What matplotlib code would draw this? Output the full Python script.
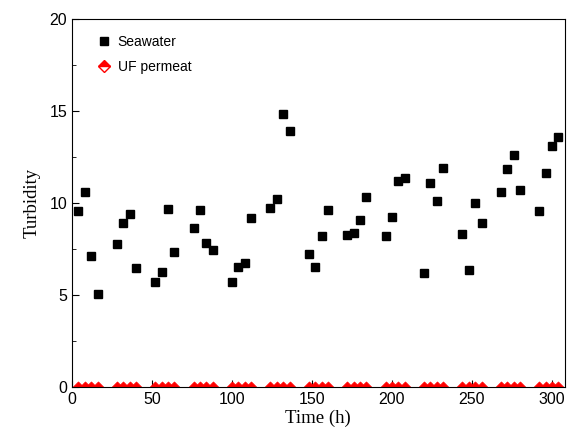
import numpy as np
import matplotlib.pyplot as plt
from matplotlib.lines import Line2D
from matplotlib.path import Path
from matplotlib.ticker import MultipleLocator

time_h = [4, 8, 12, 16, 28, 32, 36, 40, 52, 56, 60, 64, 76, 80, 84, 88,
          100, 104, 108, 112, 124, 128, 132, 136, 148, 152, 156, 160,
          172, 176, 180, 184, 196, 200, 204, 208, 220, 224, 228, 232,
          244, 248, 252, 256, 268, 272, 276, 280, 292, 296, 300, 304]
seawater = [9.58, 10.58, 7.14, 5.04, 7.77, 8.9, 9.42, 6.45,
            5.71, 6.25, 9.67, 7.35, 8.66, 9.64, 7.81, 7.48,
            5.72, 6.54, 6.76, 9.2, 9.71, 10.25, 14.87, 13.91,
            7.23, 6.54, 8.22, 9.62, 8.28, 8.39, 9.08, 10.31,
            8.24, 9.26, 11.2, 11.36, 6.21, 11.09, 10.13, 11.92,
            8.33, 6.34, 10.0, 8.91, 10.6, 11.86, 12.61, 10.74,
            9.58, 11.63, 13.1, 13.6]
uf_permeat = [0.0] * len(time_h)

fig = plt.figure(figsize=(5.69, 4.44), dpi=100)
ax = fig.add_axes([0.1265, 0.128, 0.866, 0.829])

ax.plot(time_h, seawater, 's', color='black', markersize=5.5, label='Seawater')

# points sit on y=0, so only the top half of the diamond shows
half_diamond = Path([(-1, 0), (0, 1), (1, 0), (-1, 0)],
                    [Path.MOVETO, Path.LINETO, Path.LINETO, Path.CLOSEPOLY])
ax.plot(time_h, uf_permeat, linestyle='none', marker=half_diamond, color='red',
        markersize=8, markeredgewidth=0.5)

handles = [Line2D([], [], linestyle='none', marker='s', color='black', markersize=5.5),
           Line2D([], [], linestyle='none', marker='D', color='red', markersize=6.5,
                  fillstyle='top', markerfacecoloralt='white', markeredgewidth=1.0)]

ax.set_xlim(0, 308)
ax.set_ylim(0, 20)
ax.xaxis.set_major_locator(MultipleLocator(50))
ax.yaxis.set_major_locator(MultipleLocator(5))
ax.yaxis.set_minor_locator(MultipleLocator(2.5))
ax.tick_params(which='both', direction='in', labelsize=11.5)
ax.tick_params(which='major', length=5)
ax.tick_params(which='minor', length=3)
for lab in ax.get_xticklabels() + ax.get_yticklabels():
    lab.set_family('Liberation Sans')

ax.set_xlabel('Time (h)', family='Liberation Serif', fontsize=13.5, labelpad=2)
ax.set_ylabel('Turbidity', family='Liberation Serif', fontsize=13.5, labelpad=6)

ax.legend(handles, ['Seawater', 'UF permeat'], loc='upper left',
          bbox_to_anchor=(0.025, 0.99), frameon=False,
          prop={'family': 'Liberation Sans', 'size': 10},
          handlelength=1.0, handletextpad=0.5, labelspacing=0.75)

fig.savefig('out.png', dpi=100)
